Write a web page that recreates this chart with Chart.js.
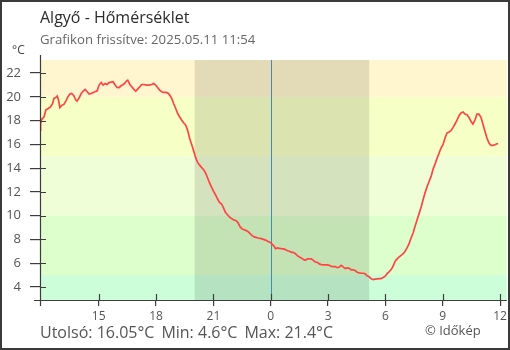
<!DOCTYPE html>
<html lang="hu">
<head>
<meta charset="utf-8">
<title>Algyő - Hőmérséklet</title>
<script src="https://cdn.jsdelivr.net/npm/chart.js@4"></script>
<style>
  html, body { margin: 0; padding: 0; background: #fff; }
  #wrap { position: relative; width: 510px; height: 350px; font-family: "Open Sans", sans-serif; }
  #wrap canvas { position: absolute; left: 0; top: 0; }
  .txt { position: absolute; white-space: nowrap; line-height: 1; }
  #title { left: 40px; top: 9px; font-size: 16px; color: #2b2b2b; }
  #sub { left: 40px; top: 33px; font-size: 13.2px; color: #666; }
  #unit { left: 12px; top: 44px; font-size: 12px; color: #444; }
  #stats { left: 40px; top: 324px; font-size: 16px; color: #555; }
  #stats span { margin-right: 7px; }
  #credit { left: 425px; top: 324px; font-size: 13px; color: #555; }
  #frame { position: absolute; left: 0; top: 0; width: 510px; height: 350px; box-sizing: border-box; border: 2px solid #3a3a3a; pointer-events: none; }
</style>
</head>
<body>
<div id="wrap">
  <canvas id="chart" width="510" height="350"></canvas>
  <div class="txt" id="title">Algyő - Hőmérséklet</div>
  <div class="txt" id="sub">Grafikon frissítve: 2025.05.11 11:54</div>
  <div class="txt" id="unit">°C</div>
  <div class="txt" id="stats"><span>Utolsó: 16.05°C</span><span>Min: 4.6°C</span><span>Max: 21.4°C</span></div>
  <div class="txt" id="credit">© Időkép</div>
  <div id="frame"></div>
</div>
<script>
// hours relative to midnight (negative = previous day)
const hours = [
  -12.07, -12.04, -11.97, -11.86, -11.76, -11.66, -11.51, -11.41, -11.34, -11.24,
  -11.17, -11.10, -11.03, -10.92, -10.82, -10.72, -10.61, -10.51, -10.41, -10.30,
  -10.20, -10.13, -10.02, -9.92, -9.81, -9.71, -9.60, -9.50, -9.39, -9.29,
  -9.19, -9.08, -8.98, -8.87, -8.77, -8.66, -8.56, -8.46, -8.25, -8.14,
  -8.04, -7.93, -7.83, -7.76, -7.65, -7.55, -7.48, -7.37, -7.27, -7.17,
  -7.06, -6.96, -6.85, -6.75, -6.64, -6.50, -6.37, -6.23, -6.12, -6.02,
  -5.91, -5.81, -5.70, -5.60, -5.46, -5.35, -5.29, -5.18, -5.08, -4.97,
  -4.87, -4.77, -4.66, -4.56, -4.45, -4.35, -4.24, -4.14, -4.03, -3.93,
  -3.83, -3.72, -3.62, -3.51, -3.41, -3.30, -3.20, -3.09, -2.99, -2.89,
  -2.78, -2.68, -2.57, -2.47, -2.37, -2.26, -2.16, -2.05, -1.95, -1.81,
  -1.70, -1.60, -1.49, -1.39, -1.28, -1.18, -1.08, -0.97, -0.87, -0.76,
  -0.66, -0.55, -0.45, -0.34, -0.24, -0.14, -0.03, 0.07, 0.18, 0.25,
  0.35, 0.45, 0.56, 0.66, 0.77, 0.87, 0.98, 1.08, 1.18, 1.29,
  1.39, 1.50, 1.60, 1.71, 1.81, 1.92, 2.02, 2.12, 2.23, 2.33,
  2.44, 2.54, 2.65, 2.75, 2.86, 2.96, 3.06, 3.17, 3.27, 3.38,
  3.48, 3.59, 3.69, 3.79, 3.90, 4.00, 4.11, 4.21, 4.32, 4.42,
  4.52, 4.63, 4.73, 4.84, 4.94, 5.04, 5.15, 5.26, 5.36, 5.46,
  5.57, 5.68, 5.78, 5.88, 5.99, 6.09, 6.20, 6.30, 6.40, 6.51,
  6.61, 6.72, 6.82, 6.93, 7.03, 7.13, 7.24, 7.34, 7.45, 7.55,
  7.66, 7.76, 7.87, 7.97, 8.07, 8.18, 8.28, 8.39, 8.49, 8.60,
  8.70, 8.81, 8.91, 9.01, 9.12, 9.22, 9.33, 9.43, 9.54, 9.64,
  9.75, 9.85, 9.95, 10.06, 10.16, 10.27, 10.37, 10.48, 10.58, 10.69,
  10.79, 10.89, 11.00, 11.10, 11.21, 11.31, 11.42, 11.52, 11.62, 11.73,
  11.83, 11.90
];

const temps = [
  17.2, 17.76, 18.13, 18.3, 18.9, 19.0, 19.17, 19.45, 19.87, 19.95,
  20.07, 19.73, 19.1, 19.3, 19.36, 19.64, 20.0, 20.23, 20.28, 20.09,
  19.73, 19.64, 19.92, 20.26, 20.49, 20.62, 20.43, 20.23, 20.28, 20.37,
  20.43, 20.51, 20.99, 21.2, 20.99, 21.12, 21.04, 21.2, 21.27, 20.99,
  20.79, 20.77, 20.93, 21.0, 21.12, 21.33, 21.4, 21.04, 20.85, 20.65,
  20.49, 20.65, 20.85, 21.04, 21.04, 20.99, 20.99, 21.04, 21.12, 20.99,
  20.77, 20.57, 20.43, 20.37, 20.37, 20.28, 20.15, 19.87, 19.44, 19.02,
  18.6, 18.32, 18.05, 17.82, 17.63, 17.2, 16.5, 16.0, 15.45, 14.9,
  14.5, 14.25, 14.06, 13.87, 13.59, 13.17, 12.75, 12.38, 12.04, 11.76,
  11.4, 11.12, 10.98, 10.65, 10.28, 10.08, 9.89, 9.75, 9.66, 9.58,
  9.38, 9.05, 8.88, 8.82, 8.74, 8.65, 8.48, 8.32, 8.21, 8.17,
  8.12, 8.09, 8.04, 7.98, 7.92, 7.83, 7.75, 7.6, 7.42, 7.22,
  7.28, 7.25, 7.22, 7.2, 7.14, 7.05, 7.0, 6.91, 6.91, 6.8,
  6.63, 6.52, 6.44, 6.3, 6.24, 6.36, 6.36, 6.36, 6.24, 6.1,
  6.07, 5.94, 5.88, 5.85, 5.85, 5.85, 5.82, 5.73, 5.71, 5.71,
  5.62, 5.68, 5.82, 5.68, 5.54, 5.6, 5.57, 5.43, 5.43, 5.38,
  5.24, 5.18, 5.15, 5.15, 5.1, 4.93, 4.85, 4.68, 4.62, 4.66,
  4.68, 4.7, 4.7, 4.79, 4.9, 5.12, 5.29, 5.46, 5.74, 6.16,
  6.36, 6.52, 6.66, 6.8, 7.0, 7.28, 7.64, 8.12, 8.54, 9.1,
  9.66, 10.17, 10.73, 11.34, 11.9, 12.46, 12.85, 13.3, 13.9, 14.36,
  14.82, 15.27, 15.69, 15.97, 16.53, 16.95, 17.04, 17.15, 17.43, 17.71,
  18.07, 18.41, 18.64, 18.72, 18.55, 18.49, 18.27, 17.93, 17.71, 18.07,
  18.55, 18.55, 18.27, 17.71, 17.09, 16.53, 16.11, 15.91, 15.91, 15.97,
  16.05, 16.05
];

const xTicks = [-9, -6, -3, 0, 3, 6, 9, 12];
const xTickLabels = ["15", "18", "21", "0", "3", "6", "9", "12"];
const yTicks = [4, 6, 8, 10, 12, 14, 16, 18, 20, 22];

// colour bands (°C limits, top to bottom) and night period (hours)
const bandLimits = [23.1, 20, 15, 10, 5, 2.9];
const bandColors = ["#fff6cf", "#f6ffc6", "#effed6", "#ddffcc", "#ccffd9"];
const night = [-3.98, 5.15];

const INK = "#3d3d3d";

const backdrop = {
  id: "backdrop",
  beforeDatasetsDraw(chart) {
    const { ctx, chartArea: a, scales: { x, y } } = chart;
    ctx.save();
    for (let i = 0; i < bandColors.length; i++) {
      const y1 = Math.max(a.top, y.getPixelForValue(bandLimits[i]));
      const y2 = Math.min(a.bottom, y.getPixelForValue(bandLimits[i + 1]));
      ctx.fillStyle = bandColors[i];
      ctx.fillRect(a.left, y1, a.right - a.left, y2 - y1);
    }
    const n1 = x.getPixelForValue(night[0]);
    const n2 = x.getPixelForValue(night[1]);
    ctx.fillStyle = "rgba(0,0,0,0.11)";
    ctx.fillRect(n1, a.top, n2 - n1, a.bottom - a.top);

    const mx = Math.round(x.getPixelForValue(0)) + 0.5;
    ctx.strokeStyle = "#3a8cc6";
    ctx.lineWidth = 1;
    ctx.beginPath();
    ctx.moveTo(mx, a.top);
    ctx.lineTo(mx, a.bottom);
    ctx.stroke();
    ctx.restore();
  },
  afterDraw(chart) {
    const { ctx, chartArea: a, scales: { x, y } } = chart;
    const L = Math.round(a.left) + 0.5;
    const B = Math.round(a.bottom) + 0.5;
    ctx.save();
    ctx.strokeStyle = INK;
    ctx.lineWidth = 1.2;
    ctx.beginPath();
    // axis lines, a bit longer than the plot
    ctx.moveTo(L, a.top - 5);
    ctx.lineTo(L, a.bottom + 6);
    ctx.moveTo(a.left - 6, B);
    ctx.lineTo(a.right, B);
    // inner halves of the tick marks
    yTicks.forEach((v) => {
      const py = Math.round(y.getPixelForValue(v)) + 0.5;
      ctx.moveTo(a.left, py);
      ctx.lineTo(a.left + 6, py);
    });
    xTicks.forEach((v) => {
      const px = Math.round(x.getPixelForValue(v)) + 0.5;
      ctx.moveTo(px, a.bottom - 6);
      ctx.lineTo(px, a.bottom);
    });
    ctx.stroke();
    ctx.restore();
  },
};

new Chart(document.getElementById("chart"), {
  type: "line",
  data: {
    datasets: [
      {
        data: hours.map((h, i) => ({ x: h, y: temps[i] })),
        borderColor: "#ff4444",
        borderWidth: 1.7,
        pointRadius: 0,
        tension: 0,
        fill: false,
      },
    ],
  },
  options: {
    responsive: false,
    animation: false,
    devicePixelRatio: 1,
    layout: { padding: { top: 60, left: 0, right: 2, bottom: 0 } },
    plugins: { legend: { display: false }, tooltip: { enabled: false }, title: { display: false } },
    scales: {
      x: {
        type: "linear",
        min: -12.07,
        max: 12.35,
        afterFit: (s) => { s.height = 50; },
        afterBuildTicks: (s) => { s.ticks = xTicks.map((v) => ({ value: v })); },
        border: { display: false },
        grid: { drawOnChartArea: false, drawTicks: true, tickLength: 6, color: INK, lineWidth: 1.2 },
        ticks: {
          autoSkip: false,
          maxRotation: 0,
          padding: 3,
          color: "#555",
          font: { family: "'Open Sans', sans-serif", size: 12 },
          callback: (v) => xTickLabels[xTicks.indexOf(v)],
        },
      },
      y: {
        min: 2.9,
        max: 23.1,
        afterFit: (s) => { s.width = 40; },
        afterBuildTicks: (s) => { s.ticks = yTicks.map((v) => ({ value: v })); },
        border: { display: false },
        grid: { drawOnChartArea: false, drawTicks: true, tickLength: 10, color: INK, lineWidth: 1.2 },
        ticks: {
          padding: 9,
          color: "#555",
          font: { family: "'Open Sans', sans-serif", size: 13 },
        },
      },
    },
  },
  plugins: [backdrop],
});
</script>
</body>
</html>
